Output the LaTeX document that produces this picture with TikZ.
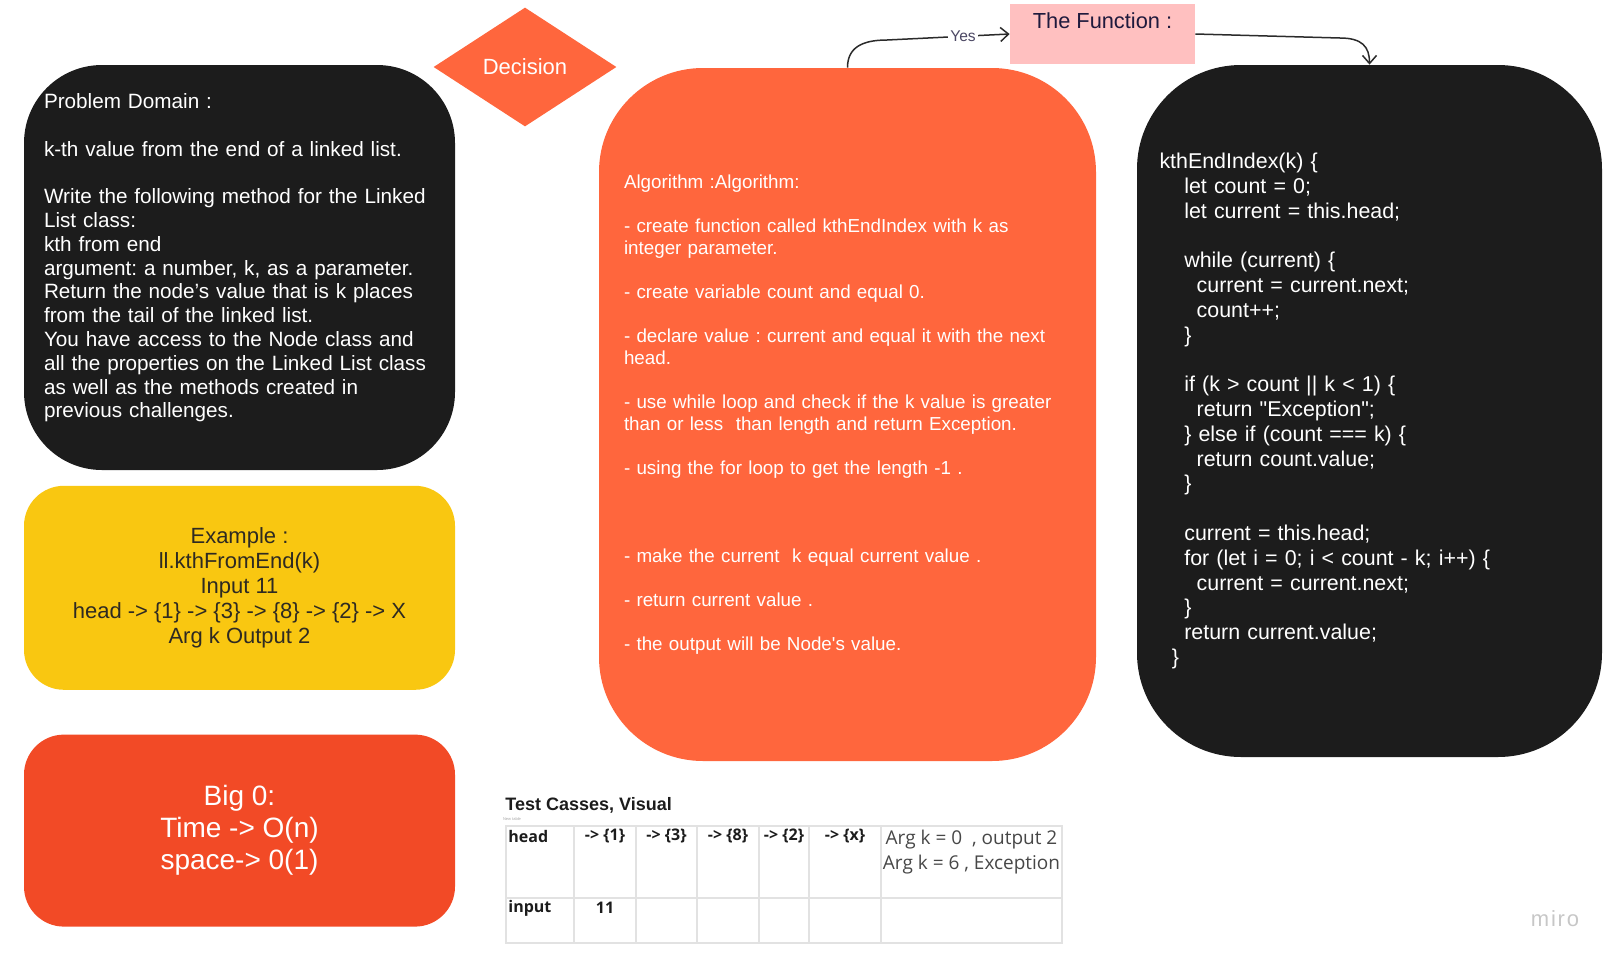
\documentclass[tikz,border=0pt]{standalone}
\usepackage{fontspec}
\setmainfont{Liberation Sans}
\newfontfamily\plainsans{Liberation Sans}[Ligatures=ResetAll]
\newfontfamily\opensans{Open Sans}
\newfontfamily\mirofont[LetterSpace=8]{Liberation Sans}
\usepackage{xcolor}
\usetikzlibrary{arrows.meta,positioning,shapes.geometric}
\definecolor{boardblack}{HTML}{1C1C1C}
\definecolor{algoorange}{HTML}{FF663D}
\definecolor{bigred}{HTML}{F24A26}
\definecolor{exyellow}{HTML}{F9C711}
\definecolor{extext}{HTML}{2E2A22}
\definecolor{funcpink}{HTML}{FFC0C0}
\definecolor{functext}{HTML}{1F1A3D}
\definecolor{linkgray}{HTML}{2B2B2B}
\definecolor{gridgray}{HTML}{E2E2E2}
\newcommand{\fsz}[2]{\fontsize{#1}{#2}\selectfont}
\newcommand{\ind}[1]{\hspace*{#1}}
\frenchspacing
\tikzset{
  >={Straight Barb[length=4pt,width=7pt]},
  card/.style  ={rectangle, inner xsep=10pt, inner ysep=0pt, align=left,
                 text=white, minimum width=215.5pt},
  probbox/.style={card, fill=boardblack, rounded corners=39pt,
                 minimum height=202.5pt, text width=195.5pt, font=\fsz{10.35}{11.9}},
  exbox/.style ={card, fill=exyellow, text=extext, align=center, rounded corners=20pt,
                 minimum height=102pt, font=\fsz{11}{12.4}},
  bigobox/.style={card, fill=bigred, align=center, rounded corners=20pt,
                 minimum height=96pt, font=\fsz{14}{16}},
  algobox/.style={card, fill=algoorange, rounded corners=52pt, inner xsep=12.5pt,
                 minimum width=248.5pt, minimum height=346.5pt, text width=223.5pt,
                 font=\plainsans\fsz{9.4}{11}},
  codebox/.style={card, fill=boardblack, rounded corners=52pt, inner xsep=11.25pt,
                 minimum width=232.5pt, minimum height=346pt, text width=210pt,
                 font=\plainsans\fsz{10.7}{12.4}},
  decide/.style={diamond, aspect=1.54, fill=algoorange, text=white, inner sep=0pt,
                 minimum width=91.5pt, minimum height=59.5pt, font=\fsz{11}{13}},
  funcbox/.style={rectangle, fill=funcpink, minimum width=92.5pt, minimum height=30pt},
  functxt/.style={text=functext, inner sep=0pt, font=\fsz{10.9}{12}},
  con/.style   ={->, draw=linkgray, line width=0.75pt},
  yes/.style   ={fill=white, inner sep=1pt, text=functext!80, font=\fsz{7.8}{9}},
  tblline/.style={draw=gridgray, line width=0.6pt},
  tbltitle/.style={inner sep=0pt, text=boardblack, font=\bfseries\fsz{9}{10}},
  cellhd/.style={inner sep=0pt, text=boardblack, font=\opensans\bfseries\fsz{8}{9}},
  argtxt/.style={inner sep=0pt, align=center, text=black!72, font=\opensans\fsz{9.5}{12.4}},
}
\begin{document}
\begin{tikzpicture}[x=0.5pt, y=-0.5pt]
\useasboundingbox (0,0) rectangle (1619,965);
% left column
\node[probbox] (prob) at (239.5,267.5) {Problem Domain :\\[11.9pt]
  k-th value from the end of a linked list.\\[11.9pt]
  Write the following method for the Linked\\List class:\\kth from end\\
  argument: a number, k, as a parameter.\\Return the node’s value that is k places\\
  from the tail of the linked list.\\You have access to the Node class and\\
  all the properties on the Linked List class\\as well as the methods created in\\
  previous challenges.\\ \mbox{}};
\node[exbox, below=7.5pt of prob] (ex) {Example :\\ll.kthFromEnd(k)\\Input 11\\
  head -> \{1\} -> \{3\} -> \{8\} -> \{2\} -> X\\Arg k Output 2};
\node[bigobox, below=22pt of ex] (bigo) {Big 0:\\Time -> O(n)\\space-> 0(1)};
% middle
\node[decide] (dec) at (525,67) {Decision};
\node[algobox] (algo) at (847.5,414.5) {Algorithm :Algorithm:\\[11pt]
  - create function called kthEndIndex with k as\\integer parameter.\\[11pt]
  - create variable count and equal 0.\\[11pt]
  - declare value : current and equal it with the next\\head.\\[11pt]
  - use while loop and check if the k value is greater\\than or less\ \ than length and return Exception.\\[11pt]
  - using the for loop to get the length -1 .\\[33pt]
  - make the current\ \ k equal current value .\\[11pt]
  - return current value .\\[11pt]
  - the output will be Node's value.};
\node[funcbox] (func) at (1102.5,34) {};
\node[functxt] (functitle) at (1102.5,21) {The Function :};
% code
\node[codebox] (code) at (1369.5,411) {kthEndIndex(k) \{\\
  \ind{12.4pt}let count = 0;\\
  \ind{12.4pt}let current = this.head;\\[12.4pt]
  \ind{12.4pt}while (current) \{\\
  \ind{18.6pt}current = current.next;\\
  \ind{18.6pt}count++;\\
  \ind{12.4pt}\}\\[12.4pt]
  \ind{12.4pt}if (k > count || k < 1) \{\\
  \ind{18.6pt}return "Exception";\\
  \ind{12.4pt}\} else if (count === k) \{\\
  \ind{18.6pt}return count.value;\\
  \ind{12.4pt}\}\\[12.4pt]
  \ind{12.4pt}current = this.head;\\
  \ind{12.4pt}for (let i = 0; i < count - k; i++) \{\\
  \ind{18.6pt}current = current.next;\\
  \ind{12.4pt}\}\\
  \ind{12.4pt}return current.value;\\
  \ind{6.2pt}\}};
% links
\coordinate (yesbend) at (887,40);
\coordinate (fnbend) at (1340,38);
\draw[con] (algo.north) .. controls +(0,-20) and +(-25,0) .. (yesbend)
  -- node[yes, pos=0.62] {Yes} (func.west);
\draw[con] (func.east) -- (fnbend) .. controls +(22,0) and +(0,-18) .. (code.north);
% test table
\node[tbltitle, anchor=west] (ttl) at (505,805) {Test Casses, Visual};
\node[inner sep=0pt, text=black!35, font=\fsz{2}{2}] (newtbl) at (512,819) {New table};
\draw[tblline] (506,826) rectangle (1062,943);
\draw[tblline] (506,898) -- (1062,898);
\foreach \x in {574,636,697,759,809,881}
  \draw[tblline] (\x,826) -- (\x,943);
\node[cellhd, anchor=west] (hd) at (508,836) {head};
\foreach \x/\v [count=\i] in {605/1,666.5/3,728/8,784/2,845/x}
  \node[cellhd] (c\i) at (\x,836) {-> \{\v\}};
\node[cellhd, anchor=west] (inp) at (508,908) {input};
\node[cellhd] (inval) at (605,908) {11};
\node[argtxt] (args) at (971.5,852) {Arg k = 0\ \ , output 2\\Arg k = 6 , Exception};
\node[inner sep=0pt, text=black!22, font=\mirofont\fsz{11}{12}] (logo) at (1555,919) {miro};
\end{tikzpicture}
\end{document}
